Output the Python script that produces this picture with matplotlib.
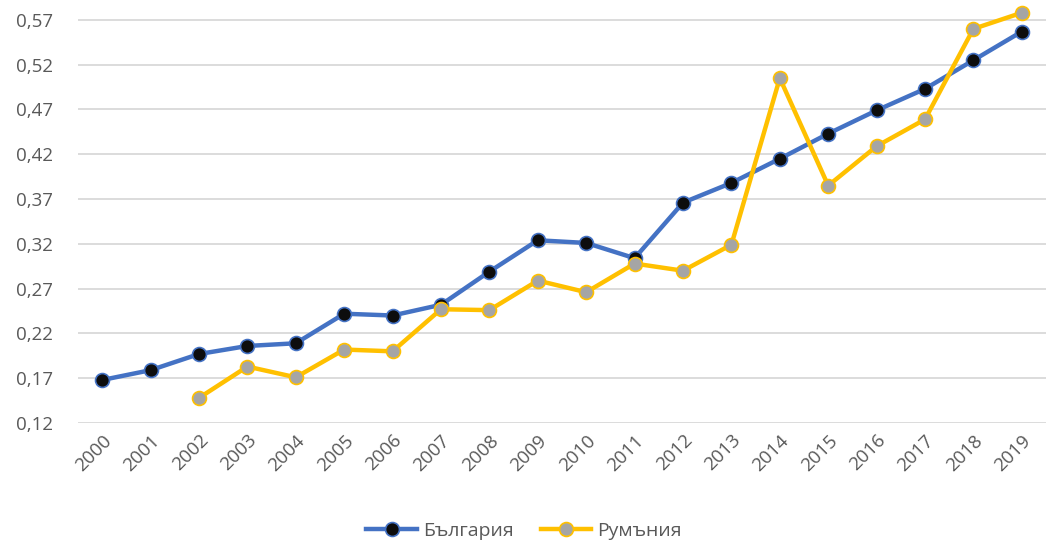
import numpy as np
import matplotlib
matplotlib.use("Agg")
import matplotlib.pyplot as plt

# Data
years = list(range(2000, 2020))
bulgaria = [0.168, 0.179, 0.197, 0.206, 0.209, 0.242, 0.240, 0.252, 0.289, 0.324,
            0.321, 0.304, 0.366, 0.388, 0.415, 0.443, 0.469, 0.493, 0.525, 0.557]
romania = [np.nan, np.nan, 0.148, 0.183, 0.171, 0.202, 0.200, 0.247, 0.246, 0.279,
           0.266, 0.298, 0.290, 0.319, 0.505, 0.385, 0.429, 0.459, 0.560, 0.578]
y_ticks = [0.12, 0.17, 0.22, 0.27, 0.32, 0.37, 0.42, 0.47, 0.52, 0.57]

plt.rcParams['font.family'] = ['Open Sans', 'DejaVu Sans']
text_color = '#595959'

fig = plt.figure(figsize=(10.48, 5.47), dpi=100)
ax = fig.add_axes([78 / 1048, 1 - 423 / 547, (1046 - 78) / 1048, (423 - 2) / 547])

x = np.arange(len(years))
ax.plot(x, bulgaria, color='#4472C4', lw=3.2, marker='o', ms=10,
        mfc='#0D0D0D', mec='#4472C4', mew=1.2, label='България', zorder=3)
ax.plot(x, romania, color='#FFC000', lw=3.2, marker='o', ms=10,
        mfc='#A5A5A5', mec='#FFC000', mew=1.2, label='Румъния', zorder=3)

ax.set_xlim(-0.5, len(years) - 0.5)
ax.set_ylim(0.12, 0.59)
ax.set_yticks(y_ticks)
ax.set_yticklabels([f"{v:.2f}".replace('.', ',') for v in y_ticks])
ax.set_xticks(x)
ax.set_xticklabels([str(y) for y in years], rotation=45, ha='right',
                   rotation_mode='anchor')

ax.grid(axis='y', color='#D9D9D9', lw=1.3)
ax.set_axisbelow(True)
for s in ax.spines.values():
    s.set_visible(False)
ax.tick_params(length=0, labelsize=13.5, colors=text_color)
ax.tick_params(axis='y', pad=18)
ax.tick_params(axis='x', pad=6)

leg = fig.legend(loc='center', bbox_to_anchor=(0.5, 1 - 531 / 547), ncol=2,
                 frameon=False, fontsize=14, handlelength=2.6,
                 handletextpad=0.3, columnspacing=1.4)
for t in leg.get_texts():
    t.set_color(text_color)

fig.savefig('out.png', dpi=100)
